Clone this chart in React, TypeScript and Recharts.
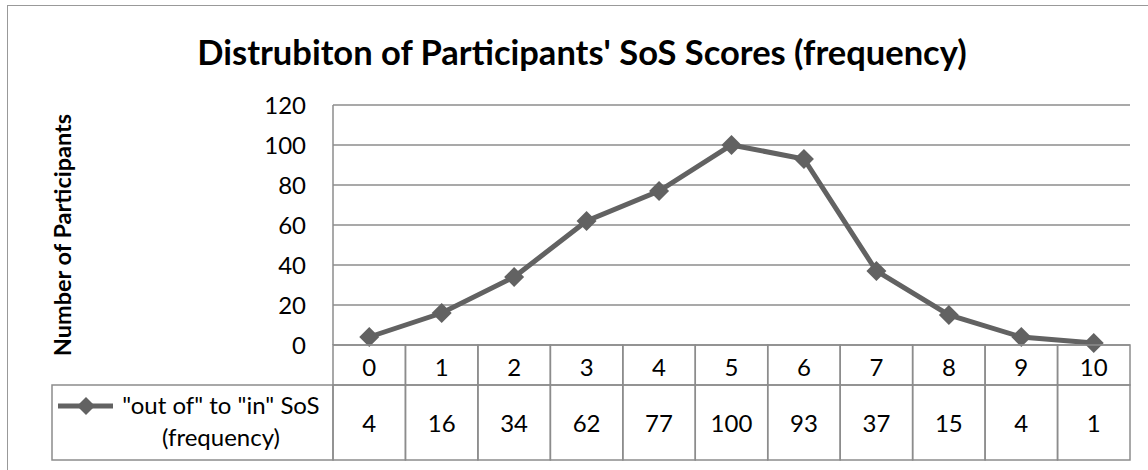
import React from 'react'
import { LineChart, Line, XAxis, YAxis, CartesianGrid } from 'recharts'

const categories = ['0', '1', '2', '3', '4', '5', '6', '7', '8', '9', '10']
const frequency = [4, 16, 34, 62, 77, 100, 93, 37, 15, 4, 1]
const yTicks = [0, 20, 40, 60, 80, 100, 120]

const seriesName = '"out of" to "in" SoS'
const seriesName2 = '(frequency)'
const title = "Distrubiton of Participants' SoS Scores (frequency)"
const yLabel = 'Number of Participants'

const data = categories.map((c, i) => ({ score: c, value: frequency[i] }))

const W = 1148
const H = 470
const PLOT_LEFT = 333
const PLOT_RIGHT = 1130
const PLOT_TOP = 105
const PLOT_BOTTOM = 345
const ROW1 = 40
const ROW2 = 75
const LEGEND_LEFT = 52
const BAND = (PLOT_RIGHT - PLOT_LEFT) / categories.length

const LINE_COLOR = '#626262'
const GRID_COLOR = '#8c8c8c'
const FONT = 'Lato, "Noto Sans", sans-serif'
const TICK_SIZE = 24

const Diamond = ({ cx, cy, r }: any) => {
  if (cx == null || cy == null) return null
  return (
    <polygon
      points={`${cx},${cy - r} ${cx + r},${cy} ${cx},${cy + r} ${cx - r},${cy}`}
      fill={LINE_COLOR}
    />
  )
}

// data table under the plot, drawn cell by cell from the x axis ticks
const TableTick = ({ x, payload, index }: any) => {
  const left = x - BAND / 2
  return (
    <g>
      {index === 0 && (
        <g>
          <rect x={LEGEND_LEFT} y={PLOT_BOTTOM + ROW1} width={left - LEGEND_LEFT} height={ROW2}
            fill="none" stroke={GRID_COLOR} strokeWidth={1.5} />
          <line x1={58} x2={113} y1={406} y2={406} stroke={LINE_COLOR} strokeWidth={5} />
          <Diamond cx={86} cy={406} r={9} />
          <text x={221} y={404} textAnchor="middle" dominantBaseline="central"
            fontSize={24} fill="#000" fontFamily={FONT}>{seriesName}</text>
          <text x={221} y={436} textAnchor="middle" dominantBaseline="central"
            fontSize={24} fill="#000" fontFamily={FONT}>{seriesName2}</text>
        </g>
      )}
      <rect x={left} y={PLOT_BOTTOM} width={BAND} height={ROW1}
        fill="none" stroke={GRID_COLOR} strokeWidth={1.5} />
      <rect x={left} y={PLOT_BOTTOM + ROW1} width={BAND} height={ROW2}
        fill="none" stroke={GRID_COLOR} strokeWidth={1.5} />
      <text x={x} y={PLOT_BOTTOM + ROW1 / 2 + 1} textAnchor="middle" dominantBaseline="central"
        fontSize={TICK_SIZE} fill="#000" fontFamily={FONT}>{payload.value}</text>
      <text x={x} y={PLOT_BOTTOM + ROW1 + ROW2 / 2} textAnchor="middle" dominantBaseline="central"
        fontSize={TICK_SIZE} fill="#000" fontFamily={FONT}>{frequency[index]}</text>
    </g>
  )
}

export default function App() {
  return (
    <div style={{ position: 'absolute', left: 0, top: 0, width: W, height: H, background: '#fff', overflow: 'hidden' }}>
      <div style={{
        position: 'absolute', left: 7, top: 5, width: W, height: H,
        borderLeft: '1.5px solid #999', borderTop: '1.5px solid #999',
      }} />
      <LineChart width={W} height={H} data={data}
        margin={{ top: PLOT_TOP, right: W - PLOT_RIGHT, left: 0, bottom: 0 }}>
        <CartesianGrid vertical={false} stroke={GRID_COLOR} strokeWidth={1.5} />
        <XAxis dataKey="score" interval={0} height={H - PLOT_BOTTOM}
          axisLine={false} tickLine={false}
          padding={{ left: BAND / 2, right: BAND / 2 }}
          tick={<TableTick />} />
        <YAxis width={PLOT_LEFT} domain={[0, 120]} ticks={yTicks} interval={0}
          axisLine={{ stroke: GRID_COLOR, strokeWidth: 1.5 }} tickLine={false}
          tickSize={0} tickMargin={27}
          tick={{ fontSize: TICK_SIZE, fill: '#000', fontFamily: FONT }} />
        <Line dataKey="value" name={seriesName} stroke={LINE_COLOR} strokeWidth={5}
          dot={(p: any) => <Diamond key={`d-${p.index}`} cx={p.cx} cy={p.cy} r={10} />}
          activeDot={false} isAnimationActive={false} />
      </LineChart>
      <svg width={W} height={H} style={{ position: 'absolute', left: 0, top: 0, pointerEvents: 'none' }}>
        <text x={582} y={51} textAnchor="middle" dominantBaseline="central"
          fontSize={34.5} fontWeight="bold" fill="#000" fontFamily={FONT}>{title}</text>
        <text x={62} y={235} textAnchor="middle" dominantBaseline="central"
          transform="rotate(-90 62 235)" fontSize={23.5} fontWeight="bold" fill="#000" fontFamily={FONT}>
          {yLabel}
        </text>
      </svg>
    </div>
  )
}
